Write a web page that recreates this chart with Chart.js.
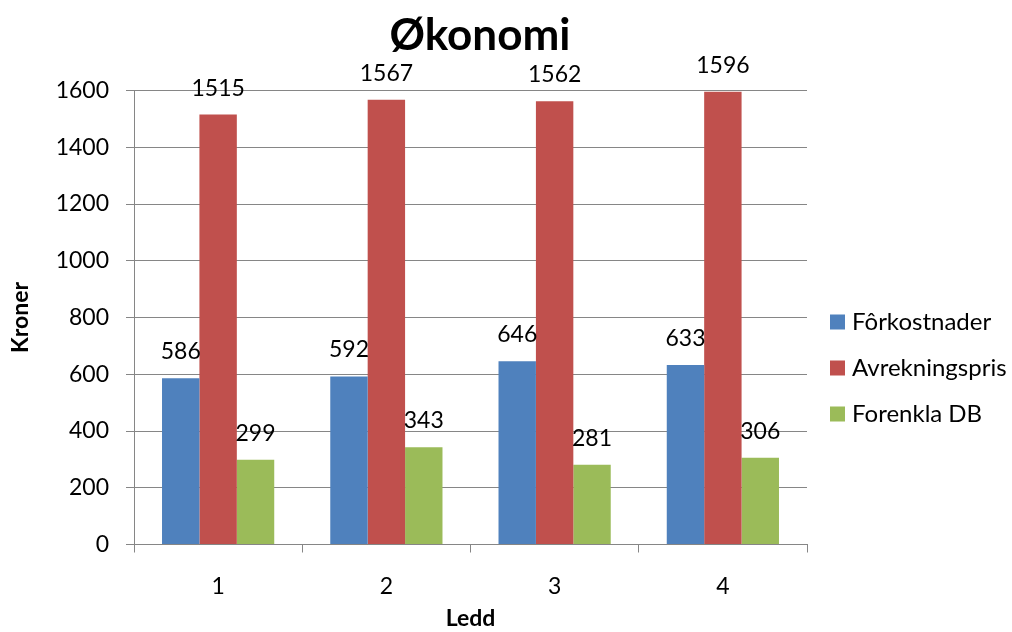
<!DOCTYPE html>
<html>
<head>
<meta charset="utf-8">
<script src="https://cdn.jsdelivr.net/npm/chart.js@4.4.1/dist/chart.umd.min.js"></script>
<style>
  html, body { margin: 0; padding: 0; background: #fff; }
  #wrap { width: 1012px; height: 632px; position: relative; }
</style>
</head>
<body>
<div id="wrap"><canvas id="c" width="1012" height="632"></canvas></div>
<script>
const chartTitle = "Økonomi";
const categories = ["1", "2", "3", "4"];
const seriesNames = ["Fôrkostnader", "Avrekningspris", "Forenkla DB"];
const forkostnader = [586, 592, 646, 633];
const avrekningspris = [1515, 1567, 1562, 1596];
const forenklaDB = [299, 343, 281, 306];
const seriesColors = ["#4F81BD", "#C0504D", "#9BBB59"];
const yAxisTitle = "Kroner";
const xAxisTitle = "Ledd";

const FONT = "Lato, 'Open Sans', sans-serif";
const GRID = "#868686";

const extras = {
  id: "extras",
  afterDatasetsDraw(chart) {
    const ctx = chart.ctx;
    ctx.save();
    ctx.fillStyle = "#000";
    ctx.textAlign = "center";
    ctx.textBaseline = "middle";
    ctx.font = "23px " + FONT;
    chart.data.datasets.forEach((ds, i) => {
      const meta = chart.getDatasetMeta(i);
      meta.data.forEach((bar, j) => {
        ctx.fillText(String(ds.data[j]), bar.x, bar.y - 26.5);
      });
    });
    // title
    ctx.font = "bold 44px " + FONT;
    ctx.fillText(chartTitle, 480, 36);
    // legend
    ctx.textAlign = "left";
    ctx.font = "24px " + FONT;
    const ys = [322, 368, 414];
    chart.data.datasets.forEach((ds, i) => {
      ctx.fillStyle = ds.backgroundColor;
      ctx.fillRect(830, ys[i] - 7.5, 15, 15);
      ctx.fillStyle = "#000";
      ctx.fillText(ds.label, 852, ys[i]);
    });
    ctx.restore();
  }
};

new Chart(document.getElementById("c"), {
  type: "bar",
  data: {
    labels: categories,
    datasets: [
      { label: seriesNames[0], data: forkostnader, backgroundColor: seriesColors[0] },
      { label: seriesNames[1], data: avrekningspris, backgroundColor: seriesColors[1] },
      { label: seriesNames[2], data: forenklaDB, backgroundColor: seriesColors[2] }
    ]
  },
  options: {
    responsive: false,
    animation: false,
    devicePixelRatio: 1,
    layout: { padding: { top: 90.5, right: 205, left: 0, bottom: 0 } },
    datasets: { bar: { categoryPercentage: 0.667, barPercentage: 1.0 } },
    plugins: {
      legend: { display: false },
      title: { display: false },
      tooltip: { enabled: false }
    },
    scales: {
      x: {
        afterFit(scale) { scale.height = 87.5; },
        grid: { display: true, drawOnChartArea: false, drawTicks: true, tickLength: 8, color: GRID, offset: true },
        border: { display: true, color: GRID, width: 1 },
        ticks: { color: "#000", font: { family: FONT, size: 23 }, padding: 20 },
        title: { display: true, text: xAxisTitle, color: "#000", font: { family: FONT, size: 23, weight: "bold" }, padding: { top: 0, bottom: 0 } }
      },
      y: {
        min: 0, max: 1600,
        afterFit(scale) { scale.width = 134; },
        grid: { display: true, drawOnChartArea: true, drawTicks: true, tickLength: 8, color: GRID },
        border: { display: true, color: GRID, width: 1 },
        ticks: { stepSize: 200, color: "#000", font: { family: FONT, size: 23 }, padding: 17, callback: (v) => String(v) },
        title: { display: true, text: yAxisTitle, color: "#000", font: { family: FONT, size: 23, weight: "bold" }, padding: { top: 7, bottom: 0 } }
      }
    }
  },
  plugins: [extras]
});
</script>
</body>
</html>
